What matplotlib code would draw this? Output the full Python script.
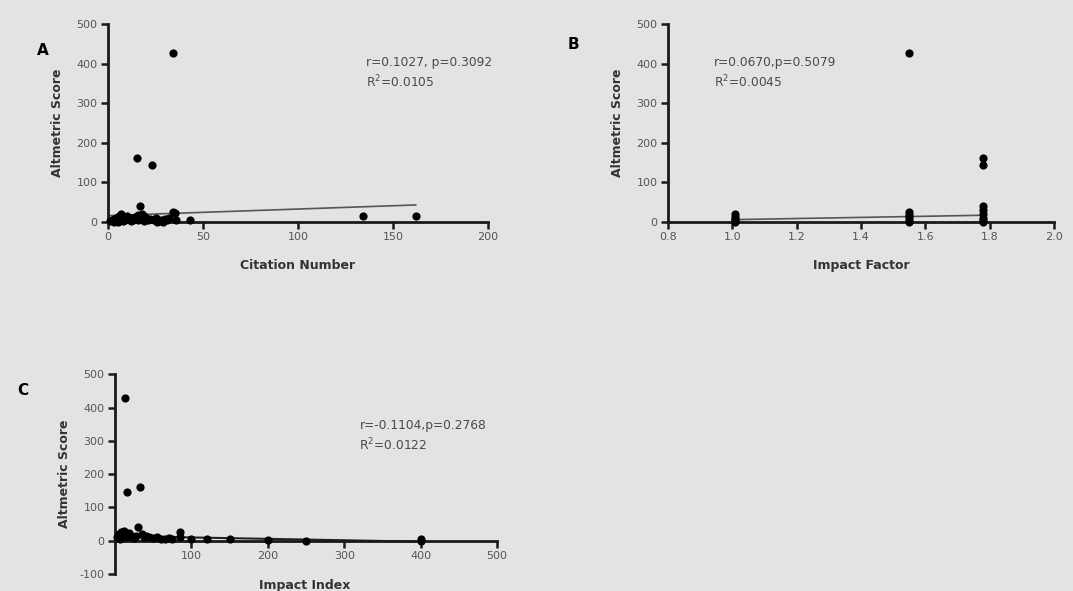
import matplotlib
matplotlib.use("Agg")
import matplotlib.pyplot as plt
import numpy as np

plt.rcParams["axes.unicode_minus"] = False

# Panel A: citation number vs altmetric score
citeX = [34, 15, 23, 134, 162, 17, 34, 35, 7, 6, 8, 2, 3, 4, 5, 9, 10, 11, 12, 13, 14,
         16, 18, 19, 20, 21, 22, 24, 25, 27, 28, 30, 31, 32, 36, 43, 1, 3, 5, 8, 12, 16, 19, 26, 29]
citeY = [428, 162, 145, 15, 15, 40, 25, 22, 20, 15, 12, 5, 8, 10, 3, 6, 14, 8, 10, 5, 12,
         18, 20, 15, 10, 6, 8, 5, 10, 3, 6, 8, 4, 10, 5, 5, 2, 0, 1, 2, 3, 5, 2, 0, 1]
fitA_x = [0, 162]
fitA_y = [16, 43]

# Panel B: impact factor vs altmetric score
ifX = [1.01, 1.01, 1.01, 1.01, 1.01, 1.55, 1.55, 1.55, 1.55, 1.55, 1.55,
       1.78, 1.78, 1.78, 1.78, 1.78, 1.78, 1.78, 1.78]
ifY = [20, 12, 8, 4, 0, 428, 25, 18, 12, 6, 0, 162, 145, 40, 30, 20, 10, 4, 0]
fitB_x = [1.01, 1.78]
fitB_y = [6, 17]

# Panel C: impact index vs altmetric score
iiX = [13, 16, 33, 30, 5, 8, 10, 12, 15, 18, 20, 22, 25, 28, 35, 38, 40, 45, 50, 55,
       60, 65, 70, 75, 85, 85, 100, 120, 150, 200, 250, 400, 400, 3, 7]
iiY = [428, 145, 162, 40, 20, 25, 15, 28, 10, 22, 18, 12, 8, 15, 20, 10, 14, 12, 8, 10,
       6, 5, 8, 4, 25, 10, 5, 5, 5, 3, 0, 5, 0, 10, 5]
fitC_x = [0, 400]
fitC_y = [14, -3]

bg = "#e3e3e3"
fig = plt.figure(figsize=(10.73, 5.91), dpi=100, facecolor=bg)

def style(ax):
    ax.set_facecolor(bg)
    for s in ["top", "right"]:
        ax.spines[s].set_visible(False)
    for s in ["left", "bottom"]:
        ax.spines[s].set_linewidth(2)
        ax.spines[s].set_color("#1a1a1a")
    ax.spines["bottom"].set_position(("data", 0))
    ax.tick_params(width=1.8, length=5, labelsize=8, labelcolor="#555555", color="#1a1a1a", pad=2.5)
    ax.patch.set_alpha(0)

lab = dict(fontsize=9, color="#333333", fontweight="bold")
ann = dict(fontsize=8.8, color="#4a4a4a", va="center", linespacing=1.35)

axA = fig.add_axes([0.1007, 0.6244, 0.354, 0.335])
axA.scatter(citeX, citeY, s=24, color="black", zorder=3, clip_on=False)
axA.plot(fitA_x, fitA_y, color="#555555", lw=1.2)
axA.set_xlim(0, 200)
axA.set_ylim(0, 500)
axA.set_xticks([0, 50, 100, 150, 200])
axA.set_yticks([0, 100, 200, 300, 400, 500])
style(axA)
axA.set_xlabel("Citation Number", labelpad=12, **lab)
axA.set_ylabel("Altmetric Score", labelpad=9, **lab)
axA.text(0.68, 0.75, "r=0.1027, p=0.3092\nR$^2$=0.0105", transform=axA.transAxes, **ann)

axB = fig.add_axes([0.6225, 0.6244, 0.3597, 0.335])
axB.scatter(ifX, ifY, s=24, color="black", zorder=3, clip_on=False)
axB.plot(fitB_x, fitB_y, color="#555555", lw=1.2)
axB.set_xlim(0.8, 2.0)
axB.set_ylim(0, 500)
axB.set_xticks([0.8, 1.0, 1.2, 1.4, 1.6, 1.8, 2.0])
axB.set_yticks([0, 100, 200, 300, 400, 500])
style(axB)
axB.set_xlabel("Impact Factor", labelpad=12, **lab)
axB.set_ylabel("Altmetric Score", labelpad=9, **lab)
axB.text(0.12, 0.75, "r=0.0670,p=0.5079\nR$^2$=0.0045", transform=axB.transAxes, **ann)

axC = fig.add_axes([0.1072, 0.0288, 0.356, 0.338])
axC.scatter(iiX, iiY, s=24, color="black", zorder=3, clip_on=False)
axC.plot(fitC_x, fitC_y, color="#222222", lw=1.5)
axC.set_xlim(0, 500)
axC.set_ylim(-100, 500)
axC.set_xticks([100, 200, 300, 400, 500])
axC.set_yticks([-100, 0, 100, 200, 300, 400, 500])
style(axC)
axC.set_xlabel("Impact Index", **lab)
axC.xaxis.set_label_coords(0.497, -0.025)
axC.set_ylabel("Altmetric Score", labelpad=6, **lab)
axC.text(0.64, 0.69, "r=-0.1104,p=0.2768\nR$^2$=0.0122", transform=axC.transAxes, **ann)

fig.text(0.040, 0.915, "A", fontsize=11, fontweight="bold", va="center", ha="center")
fig.text(0.534, 0.925, "B", fontsize=11, fontweight="bold", va="center", ha="center")
fig.text(0.021, 0.340, "C", fontsize=11, fontweight="bold", va="center", ha="center")

fig.savefig("out.png", dpi=100, facecolor=bg)
